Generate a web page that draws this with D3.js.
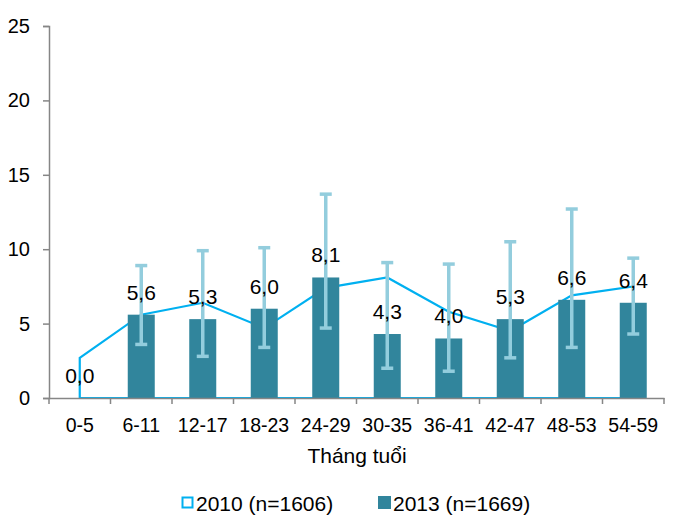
<!DOCTYPE html>
<html>
<head>
<meta charset="utf-8">
<script src="https://cdn.jsdelivr.net/npm/d3@7"></script>
<style>
    body { margin: 0; background: #fff; }
    text { font-family: "Liberation Sans", Arial, sans-serif; fill: #000; }
</style>
</head>
<body>
<div id="chart"></div>
<script>

var categories = ["0-5", "6-11", "12-17", "18-23", "24-29", "30-35", "36-41", "42-47", "48-53", "54-59"];
// 2010 series (drawn as outlined area)
var values2010 = [2.7, 5.6, 6.4, 4.7, 7.4, 8.1, 5.8, 4.5, 6.9, 7.5];
// 2013 series (bars) + confidence interval
var values2013 = [0.0, 5.6, 5.3, 6.0, 8.1, 4.3, 4.0, 5.3, 6.6, 6.4];
var errHigh = [null, 8.9, 9.9, 10.1, 13.7, 9.1, 9.0, 10.5, 12.7, 9.4];
var errLow = [null, 3.6, 2.8, 3.4, 4.7, 2.0, 1.8, 2.7, 3.4, 4.3];
var yTicks = [0, 5, 10, 15, 20, 25];
var legendLabels = ["2010 (n=1606)", "2013 (n=1669)"];
var axisTitle = "Tháng tuổi";

StuntingChart = function (_parentElement) {
    this.parentElement = _parentElement;
    this.width = 676;
    this.height = 518;
    this.initVis();
}

/*
 *  Set up svg, scales and axes
 */
StuntingChart.prototype.initVis = function () {
    var vis = this;

    vis.svg = d3.select("#" + vis.parentElement)
        .append("svg")
        .attr("width", vis.width)
        .attr("height", vis.height);

    vis.x = d3.scaleBand().domain(categories).range([49, 664]).padding(0);
    vis.y = d3.scaleLinear().domain([0, 25]).range([398, 26]);

    vis.updateVis();
}

/*
 *  Draw everything
 */
StuntingChart.prototype.updateVis = function () {
    var vis = this;
    var x = vis.x, y = vis.y;
    var cx = function (d, i) { return x(categories[i]) + x.bandwidth() / 2; };

    // 2010 area, white fill with blue outline
    var area = d3.area()
        .x(function (d, i) { return cx(d, i); })
        .y0(y(0))
        .y1(function (d) { return y(d); });

    vis.svg.append("path")
        .datum(values2010)
        .attr("d", area)
        .attr("fill", "#fff")
        .attr("stroke", "#00B0F0")
        .attr("stroke-width", 2.2);

    // 2013 bars
    var barW = 27;
    vis.svg.append("g").selectAll("rect")
        .data(values2013)
        .enter().append("rect")
        .attr("x", function (d, i) { return cx(d, i) - barW / 2; })
        .attr("y", function (d) { return y(d); })
        .attr("width", barW)
        .attr("height", function (d) { return y(0) - y(d); })
        .attr("fill", "#31859C");

    // error bars
    var eb = vis.svg.append("g")
        .attr("stroke", "#93CDDD");
    values2013.forEach(function (d, i) {
        if (errHigh[i] == null) return;
        var c = cx(d, i);
        eb.append("line")
            .attr("x1", c).attr("x2", c)
            .attr("y1", y(errLow[i])).attr("y2", y(errHigh[i]))
            .attr("stroke-width", 3.5);
        [errLow[i], errHigh[i]].forEach(function (v) {
            eb.append("line")
                .attr("x1", c - 6).attr("x2", c + 6)
                .attr("y1", y(v)).attr("y2", y(v))
                .attr("stroke-width", 3.5);
        });
    });

    // axes
    var yAxis = d3.axisLeft(y).tickValues(yTicks).tickSize(6).tickPadding(13);
    var gy = vis.svg.append("g")
        .attr("transform", "translate(49,0)")
        .call(yAxis);
    gy.selectAll("text").style("font-size", "20px");

    var xAxis = d3.axisBottom(x).tickSize(0).tickPadding(20);
    var gx = vis.svg.append("g")
        .attr("transform", "translate(0,398)")
        .call(xAxis);
    gx.selectAll("text").style("font-size", "19.5px");
    // tick marks at category boundaries
    gx.selectAll(".boundary")
        .data(categories.concat(["end"]))
        .enter().append("line")
        .attr("x1", function (d, i) { return 49 + i * x.bandwidth(); })
        .attr("x2", function (d, i) { return 49 + i * x.bandwidth(); })
        .attr("y1", 0).attr("y2", 6)
        .attr("stroke", "#868686").attr("stroke-width", 1.5);

    vis.svg.selectAll(".domain, .tick line")
        .attr("stroke", "#868686").attr("stroke-width", 1.5);

    // value labels for 2013
    vis.svg.append("g").selectAll("text")
        .data(values2013)
        .enter().append("text")
        .attr("x", function (d, i) { return cx(d, i); })
        .attr("y", function (d) { return y(d) - 15; })
        .attr("text-anchor", "middle")
        .style("font-size", "21px")
        .text(function (d) { return d.toFixed(1).replace(".", ","); });

    // axis title
    vis.svg.append("text")
        .attr("x", 357).attr("y", 463)
        .attr("text-anchor", "middle")
        .style("font-size", "21px")
        .text(axisTitle);

    // legend
    var lg = vis.svg.append("g");
    lg.append("rect")
        .attr("x", 182.5).attr("y", 497.5).attr("width", 10).attr("height", 10)
        .attr("fill", "#fff").attr("stroke", "#00B0F0").attr("stroke-width", 2);
    lg.append("text").attr("x", 196).attr("y", 511)
        .style("font-size", "21px").text(legendLabels[0]);
    lg.append("rect")
        .attr("x", 378).attr("y", 496).attr("width", 13).attr("height", 13)
        .attr("fill", "#31859C");
    lg.append("text").attr("x", 393).attr("y", 511)
        .style("font-size", "21px").text(legendLabels[1]);
}

new StuntingChart("chart");
</script>
</body>
</html>
